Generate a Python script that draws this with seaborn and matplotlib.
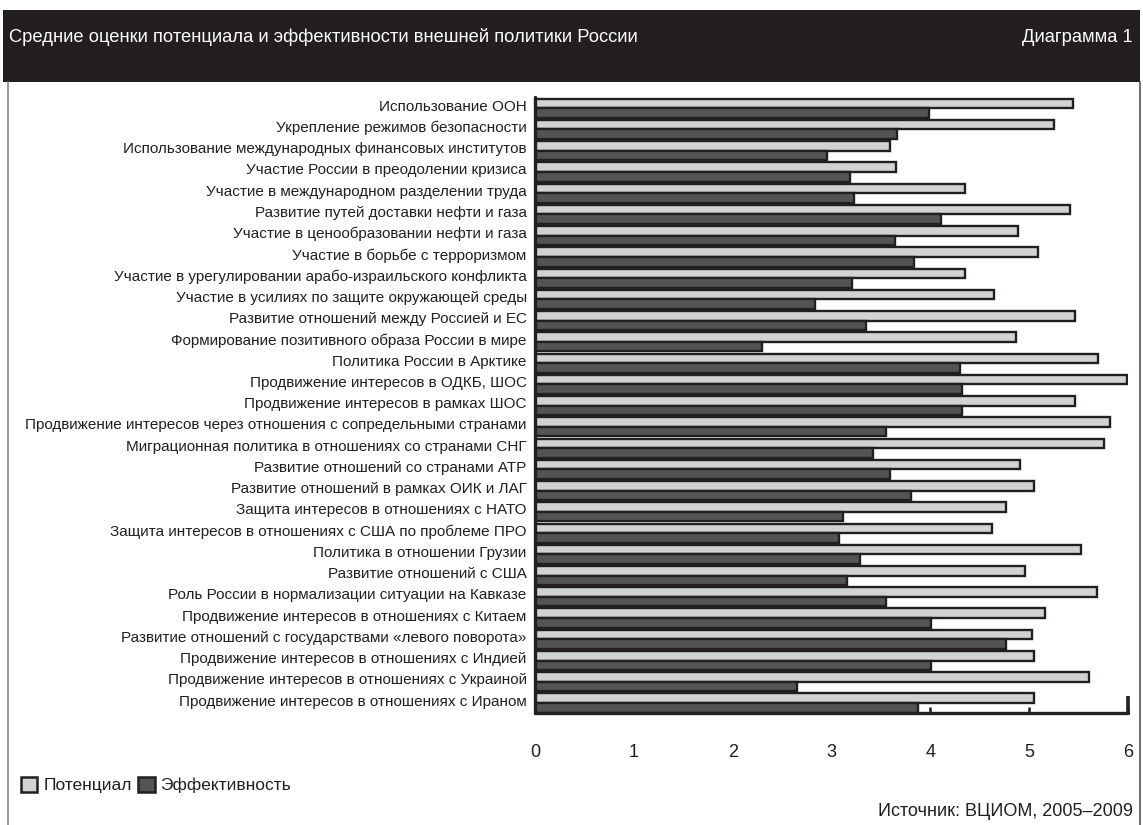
import matplotlib
matplotlib.use("Agg")
import matplotlib.pyplot as plt
import matplotlib.transforms as mtransforms
from matplotlib.patches import Rectangle, Patch
from matplotlib.lines import Line2D
import seaborn as sns
import pandas as pd

categories = [
    "Использование ООН",
    "Укрепление режимов безопасности",
    "Использование международных финансовых институтов",
    "Участие России в преодолении кризиса",
    "Участие в международном разделении труда",
    "Развитие путей доставки нефти и газа",
    "Участие в ценообразовании нефти и газа",
    "Участие в борьбе с терроризмом",
    "Участие в урегулировании арабо-израильского конфликта",
    "Участие в усилиях по защите окружающей среды",
    "Развитие отношений между Россией и ЕС",
    "Формирование позитивного образа России в мире",
    "Политика России в Арктике",
    "Продвижение интересов в ОДКБ, ШОС",
    "Продвижение интересов в рамках ШОС",
    "Продвижение интересов через отношения с сопредельными странами",
    "Миграционная политика в отношениях со странами СНГ",
    "Развитие отношений со странами АТР",
    "Развитие отношений в рамках ОИК и ЛАГ",
    "Защита интересов в отношениях с НАТО",
    "Защита интересов в отношениях с США по проблеме ПРО",
    "Политика в отношении Грузии",
    "Развитие отношений с США",
    "Роль России в нормализации ситуации на Кавказе",
    "Продвижение интересов в отношениях с Китаем",
    "Развитие отношений с государствами «левого поворота»",
    "Продвижение интересов в отношениях с Индией",
    "Продвижение интересов в отношениях с Украиной",
    "Продвижение интересов в отношениях с Ираном",
]

potential = [5.44, 5.25, 3.59, 3.65, 4.35, 5.41, 4.89, 5.09, 4.35, 4.64,
             5.46, 4.87, 5.70, 5.99, 5.46, 5.82, 5.76, 4.91, 5.05, 4.77,
             4.62, 5.52, 4.96, 5.69, 5.16, 5.03, 5.05, 5.61, 5.05]
efficiency = [3.99, 3.66, 2.95, 3.19, 3.23, 4.11, 3.64, 3.83, 3.21, 2.83,
              3.35, 2.30, 4.30, 4.32, 4.32, 3.55, 3.42, 3.59, 3.80, 3.12,
              3.08, 3.29, 3.16, 3.55, 4.01, 4.77, 4.01, 2.65, 3.88]

series_names = ["Потенциал", "Эффективность"]
x_ticks = [0, 1, 2, 3, 4, 5, 6]

title_text = "Средние оценки потенциала и эффективности внешней политики России"
diagram_label = "Диаграмма 1"
source_text = "Источник: ВЦИОМ, 2005–2009"

df = pd.DataFrame({
    "category": categories * 2,
    "series": [series_names[0]] * len(categories) + [series_names[1]] * len(categories),
    "value": potential + efficiency,
})

INK = "#231f20"
LIGHT = "#d1d2d2"
DARK = "#545456"

sns.set_theme(style="white")
plt.rcParams["font.family"] = ["Liberation Sans", "DejaVu Sans"]

W, H = 1143, 825
fig = plt.figure(figsize=(W / 100, H / 100), dpi=100)
fig.patch.set_facecolor("white")

# header bar
fig.patches.append(Rectangle((3 / W, 1 - 82 / H), (1140 - 3) / W, (82 - 10) / H,
                             transform=fig.transFigure, facecolor=INK, edgecolor="none", zorder=0))
fig.text(9 / W, 1 - 37 / H, title_text, color="white", fontsize=13.2, ha="left", va="center")
fig.text(1133 / W, 1 - 37 / H, diagram_label, color="white", fontsize=13.2, ha="right", va="center")

# frame lines
fig.lines.append(Line2D([8 / W, 8 / W], [0, 1 - 82 / H], transform=fig.transFigure,
                        color="#8a8a8a", linewidth=1.2))
fig.lines.append(Line2D([1140 / W, 1140 / W], [0, 1 - 82 / H], transform=fig.transFigure,
                        color="#555555", linewidth=1.2))

ax = fig.add_axes([535 / W, 1 - 713 / H, (1128 - 535) / W, (713 - 97) / H])

sns.barplot(data=df, x="value", y="category", hue="series", order=categories,
            hue_order=series_names, palette=[LIGHT, DARK], orient="h",
            width=0.9, dodge=True, edgecolor=INK, linewidth=1.7,
            saturation=1, legend=False, ax=ax)

ax.set_xlim(0, 6)
ax.set_ylim(28.47, -0.53)
ax.set_xlabel("")
ax.set_ylabel("")
ax.set_facecolor("white")

for side in ["top", "right"]:
    ax.spines[side].set_visible(False)
for side in ["left", "bottom"]:
    ax.spines[side].set_color(INK)
    ax.spines[side].set_linewidth(2.4)
    ax.spines[side].set_capstyle("round")

ax.set_xticks(x_ticks)
ax.set_xticklabels([str(t) for t in x_ticks])
ax.tick_params(axis="x", which="major", bottom=True, direction="in", length=4, width=1.8,
               color=INK, pad=22, labelsize=13, labelcolor=INK)
ax.xaxis.remove_overlapping_locs = False
ax.set_xticks([6], minor=True)
ax.tick_params(axis="x", which="minor", bottom=True, direction="in", length=12, width=2.6,
               color=INK, labelbottom=False)

ax.tick_params(axis="y", left=False, length=0, pad=6, labelsize=11.0, labelcolor=INK)
offset = mtransforms.ScaledTranslation(0, 3 / 100, fig.dpi_scale_trans)
for lab in ax.get_yticklabels():
    lab.set_transform(lab.get_transform() + offset)

handles = [Patch(facecolor=LIGHT, edgecolor=INK, linewidth=1.8),
           Patch(facecolor=DARK, edgecolor=INK, linewidth=1.8)]
fig.legend(handles, series_names, loc="center left",
           bbox_to_anchor=(21 / W, 1 - 785 / H), ncol=2, frameon=False,
           fontsize=12.5, handlelength=0.95, handleheight=0.95,
           handletextpad=0.35, columnspacing=0.35, borderaxespad=0, borderpad=0,
           labelcolor=INK)

fig.text(1133 / W, 1 - 812 / H, source_text, fontsize=13, color=INK, ha="right", va="center")

fig.savefig("out.png", dpi=100, facecolor="white")
